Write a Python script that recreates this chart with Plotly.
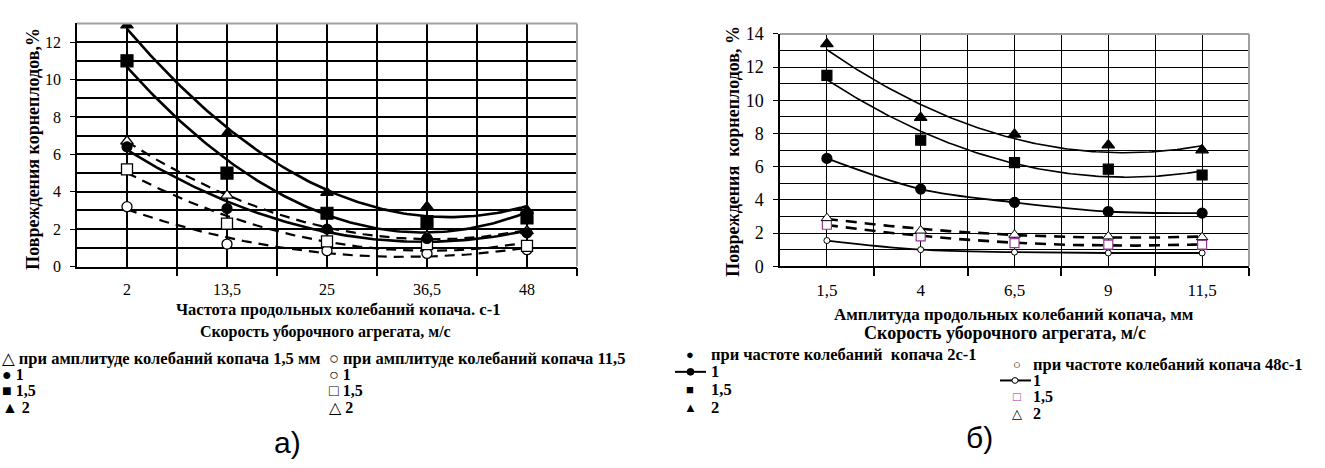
import numpy as np
import plotly.graph_objects as go

W, H = 1325, 468

# ---------------- data ----------------
freq_labels = ["2", "13,5", "25", "36,5", "48"]
amp_labels = ["1,5", "4", "6,5", "9", "11,5"]

# panel a) amplitude 1.5 mm (filled) / 11.5 mm (open); series = speed 1, 1.5, 2 m/s
a_fill_v1 = [6.4, 3.1, 2.0, 1.5, 1.8]
a_fill_v15 = [11.0, 5.0, 2.85, 2.4, 2.6]
a_fill_v2 = [12.9, 7.1, 3.95, 3.2, 3.0]
a_open_v1 = [3.2, 1.2, 0.85, 0.7, 0.9]
a_open_v15 = [5.2, 2.3, 1.35, 1.2, 1.1]
a_open_v2 = [6.7, 3.8, 2.0, 1.6, 1.9]

# panel б) frequency 2 s-1 (filled) / 48 s-1 (open)
b_fill_v1 = [6.5, 4.65, 3.85, 3.3, 3.2]
b_fill_v15 = [11.5, 7.6, 6.25, 5.85, 5.5]
b_fill_v2 = [13.4, 8.95, 7.95, 7.3, 7.0]
b_open_v1 = [1.55, 1.0, 0.85, 0.8, 0.8]
b_open_v15 = [2.5, 1.8, 1.4, 1.3, 1.3]
b_open_v2 = [2.9, 2.15, 1.9, 1.8, 1.75]

SERIF = "Times New Roman, Liberation Serif, DejaVu Serif, serif"
NARROW = "Liberation Sans Narrow, Arial Narrow, Liberation Sans, sans-serif"
PURPLE = "#993399"

idx = np.arange(5)
xs = np.linspace(0, 4, 121)


def trend(vals):
    c = np.polyfit(idx, np.array(vals, dtype=float), 2)
    return np.polyval(c, xs)


fig = go.Figure()


def line(x, y, ax, width, dash="solid", shape="linear"):
    fig.add_trace(go.Scatter(x=x, y=y, mode="lines", xaxis=ax[0], yaxis=ax[1],
                             line=dict(color="black", width=width, dash=dash, shape=shape),
                             hoverinfo="skip", showlegend=False))


def marks(y, ax, symbol, size, color="black", fill="black", lw=1.2):
    fig.add_trace(go.Scatter(x=idx, y=y, mode="markers", xaxis=ax[0], yaxis=ax[1],
                             marker=dict(symbol=symbol, size=size, color=fill,
                                         line=dict(color=color, width=lw)),
                             showlegend=False))


A = ("x", "y")
B = ("x2", "y2")

# panel a) trend lines
for v in (a_fill_v2, a_fill_v15, a_fill_v1):
    line(xs, trend(v), A, 2.6)
for v in (a_open_v2, a_open_v15, a_open_v1):
    line(xs, trend(v), A, 2.2, dash="10px,7px")
marks(a_open_v1, A, "circle", 10, fill="white", lw=1.3)
marks(a_open_v15, A, "square", 11, fill="white", lw=1.3)
marks(a_open_v2, A, "triangle-up", 11, fill="white", lw=1.3)
marks(a_fill_v1, A, "circle", 10)
marks(a_fill_v15, A, "square", 12)
marks(a_fill_v2, A, "triangle-up", 11)

# panel б) lines
line(xs, trend(b_fill_v2), B, 1.6)
line(xs, trend(b_fill_v15), B, 1.6)
line(idx, b_fill_v1, B, 1.8, shape="spline")
line(idx, b_open_v1, B, 1.8, shape="spline")
line(xs, trend(b_open_v2), B, 2.6, dash="11px,8px")
line(xs, trend(b_open_v15), B, 2.6, dash="11px,8px")
marks(b_open_v1, B, "circle", 6, fill="white", lw=1)
marks(b_open_v15, B, "square", 9, color=PURPLE, fill="white", lw=1.2)
marks(b_open_v2, B, "triangle-up", 10, fill="white", lw=1)
marks(b_fill_v1, B, "circle", 10)
marks(b_fill_v15, B, "square", 10)
marks(b_fill_v2, B, "triangle-up", 11)


def px_x(p):
    return p / W


def px_y(p):
    return 1 - p / H


# axes
ax_a = dict(l=77, r=577, t=14, b=268)
ax_b = dict(l=780, r=1249, t=25, b=267.7)

minor_x = [0.5, 1.5, 2.5, 3.5, 4.5]


def xaxis(dom, labels, gw, size):
    return dict(domain=dom, range=[-0.5, 4.5], tickvals=list(idx), ticktext=labels,
                showgrid=True, gridcolor="black", gridwidth=gw, ticks="",
                showline=True, linecolor="black", linewidth=1.5, zeroline=False,
                tickfont=dict(family=SERIF, size=size, color="black"),
                ticklabelstandoff=8, fixedrange=True,
                minor=dict(tickvals=minor_x, showgrid=True, gridcolor="black",
                           gridwidth=gw, ticks="outside", ticklen=8,
                           tickcolor="black", tickwidth=1.5))


def yaxis(dom, top, gw, size, standoff):
    return dict(domain=dom, range=[0, top], tickvals=list(range(0, top + 1, 2)),
                showgrid=True, gridcolor="black", gridwidth=gw, ticks="outside",
                ticklen=5, tickcolor="black", tickwidth=1.2,
                showline=True, linecolor="black", linewidth=1.5, zeroline=False,
                tickfont=dict(family=SERIF, size=size, color="black"),
                ticklabelstandoff=standoff, fixedrange=True,
                minor=dict(dtick=1, showgrid=True, gridcolor="black", gridwidth=gw))


fig.update_layout(
    width=W, height=H, margin=dict(l=0, r=0, t=0, b=0),
    paper_bgcolor="white", plot_bgcolor="white",
    font=dict(family=SERIF, color="black"),
    xaxis=xaxis([px_x(ax_a["l"]), px_x(ax_a["r"])], freq_labels, 1.6, 16),
    yaxis=yaxis([px_y(ax_a["b"]), px_y(ax_a["t"])], 13, 2.0, 16, 6),
    xaxis2=xaxis([px_x(ax_b["l"]), px_x(ax_b["r"])], amp_labels, 1.2, 17),
    yaxis2=yaxis([px_y(ax_b["b"]), px_y(ax_b["t"])], 14, 1.2, 18, 6),
)
fig.layout.xaxis2.anchor = "y2"
fig.layout.yaxis2.anchor = "x2"

shapes = []
for (l, r, t, b) in ((ax_a["l"], ax_a["r"], ax_a["t"], ax_a["b"]), (ax_b["l"], ax_b["r"], ax_b["t"], ax_b["b"])):
    # grey frame on top and right edges
    shapes.append(dict(type="line", xref="paper", yref="paper", x0=px_x(l), x1=px_x(r),
                       y0=px_y(t), y1=px_y(t), line=dict(color="#a0a0a0", width=2), layer="above"))
    shapes.append(dict(type="line", xref="paper", yref="paper", x0=px_x(r), x1=px_x(r),
                       y0=px_y(t), y1=px_y(b), line=dict(color="#a0a0a0", width=2), layer="above"))

ann = []


def text(x, y, s, size=15, bold=True, anchor="left", color="black", angle=0, family=SERIF):
    ann.append(dict(x=px_x(x), y=px_y(y), xref="paper", yref="paper", text=(f"<b>{s}</b>" if bold else s),
                    showarrow=False, xanchor=anchor, yanchor="middle", textangle=angle,
                    font=dict(family=family, size=size, color=color)))


# axis titles
text(33, 145, "Повреждения корнеплодов,%", size=18, anchor="center", angle=-90)
text(733, 148, "Повреждения  корнеплодов, %", size=18, anchor="center", angle=-90)
text(338, 313, "Частота продольных колебаний копача. с-1", size=16.5, anchor="center")
text(325, 336, "Скорость уборочного агрегата, м/с", size=16, anchor="center")
text(1014, 318, "Амплитуда продольных колебаний копача, мм", size=17, anchor="center")
text(1005, 337, "Скорость уборочного агрегата, м/с", size=18, anchor="center")

# legend panel a)
text(0, 364, "△ при амплитуде колебаний копача 1,5 мм", size=16.5)
text(0, 381, "● 1", size=16)
text(0, 398, "■ 1,5", size=16)
text(0, 415, "▲ 2", size=16)
text(327, 364, "○ при амплитуде колебаний копача 11,5", size=16.5)
text(327, 381, "○ 1", size=16)
text(327, 398, "□ 1,5", size=16)
text(327, 415, "△ 2", size=16)

# legend panel б)
text(690, 360, "●", size=13, anchor="center")
text(709, 360, "при частоте колебаний\u00a0\u00a0копача 2с-1", size=16.5)
text(709, 378, "1", size=16.5)
text(690, 396, "■", size=13, anchor="center")
text(709, 396, "1,5", size=16.5)
text(690, 415, "▲", size=13, anchor="center")
text(709, 415, "2", size=16.5)
shapes.append(dict(type="line", xref="paper", yref="paper", x0=px_x(675), x1=px_x(706),
                   y0=px_y(378), y1=px_y(378), line=dict(color="black", width=2)))
shapes.append(dict(type="circle", xref="paper", yref="paper", x0=px_x(687), x1=px_x(694),
                   y0=px_y(381.5), y1=px_y(374.5), fillcolor="black", line=dict(color="black", width=1)))

text(1017, 370, "○", size=13, anchor="center")
text(1031, 370, "при частоте колебаний копача 48с-1", size=16.5)
text(1031, 387, "1", size=16)
shapes.append(dict(type="line", xref="paper", yref="paper", x0=px_x(1000), x1=px_x(1031),
                   y0=px_y(387), y1=px_y(387), line=dict(color="black", width=2)))
shapes.append(dict(type="circle", xref="paper", yref="paper", x0=px_x(1012), x1=px_x(1018),
                   y0=px_y(390), y1=px_y(384), fillcolor="white", line=dict(color="black", width=1)))
text(1017, 404, "□", size=13, anchor="center", color=PURPLE, bold=False)
text(1031, 404, "1,5", size=16)
text(1017, 421, "△", size=13, anchor="center", bold=False)
text(1031, 421, "2", size=16)

# panel labels
text(287, 452, "а)", size=30, bold=False, anchor="center", family=NARROW)
text(980, 447, "б)", size=30, bold=False, anchor="center", family=NARROW)

fig.update_layout(shapes=shapes, annotations=ann)

fig.write_html("out.html", config={"displayModeBar": False},
               post_script="document.body.style.margin='0';document.body.style.overflow='hidden';")
